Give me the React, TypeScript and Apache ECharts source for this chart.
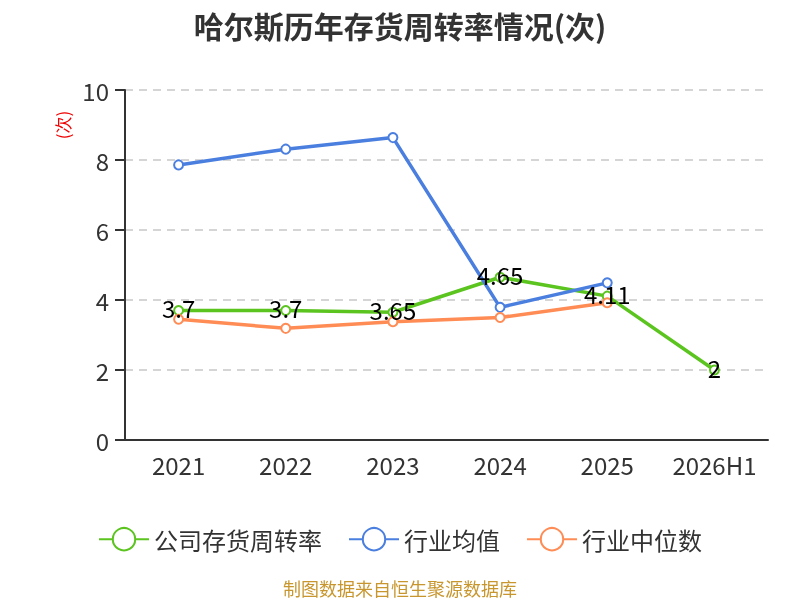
import React, { useEffect, useRef } from "react";
import * as echarts from "echarts";

const categories = ["2021", "2022", "2023", "2024", "2025", "2026H1"];
const companyValues = [3.7, 3.7, 3.65, 4.65, 4.11, 2];
const industryAvg = [7.86, 8.31, 8.64, 3.79, 4.49, null];
const industryMedian = [3.45, 3.19, 3.38, 3.5, 3.92, null];
const seriesNames = ["公司存货周转率", "行业均值", "行业中位数"];
const colors = ["#5bc41f", "#4a7fe0", "#ff8c55"];

const FONT = "'Noto Sans CJK SC', 'Noto Sans', sans-serif";

export default function App() {
  const ref = useRef<HTMLDivElement>(null);
  useEffect(() => {
    if (!ref.current) return;
    const chart = echarts.init(ref.current, undefined, { renderer: "svg" });
    const mk = (name: string, data: any[], color: string, withLabel: boolean) => ({
      name,
      type: "line",
      data,
      symbol: "emptyCircle",
      symbolSize: 9,
      lineStyle: { width: 3.5, color },
      itemStyle: { color, borderWidth: 2 },
      label: withLabel
        ? {
            show: true,
            position: "inside",
            offset: [0, -3],
            color: "#000",
            fontSize: 24,
            fontFamily: FONT,
          }
        : { show: false },
    });
    chart.setOption({
      animation: false,
      textStyle: { fontFamily: FONT },
      title: {
        text: "哈尔斯历年存货周转率情况(次)",
        left: "center",
        top: 5,
        textStyle: { fontSize: 30, fontWeight: "bold", color: "#333", fontFamily: FONT },
      },
      graphic: [
        {
          type: "text",
          x: 62,
          y: 125,
          rotation: Math.PI / 2,
          style: {
            text: "(次)",
            fill: "#e00",
            fontSize: 17,
            fontFamily: FONT,
            align: "center",
            verticalAlign: "middle",
          },
        },
        {
          type: "text",
          left: "center",
          top: 579,
          style: {
            text: "制图数据来自恒生聚源数据库",
            fill: "#c8962e",
            fontSize: 18,
            fontFamily: FONT,
          },
        },
      ],
      legend: {
        top: 522,
        left: "center",
        itemWidth: 50,
        itemHeight: 28,
        itemGap: 26,
        textStyle: { fontSize: 24, color: "#333", fontFamily: FONT },
        data: seriesNames,
      },
      grid: { left: 125, right: 32, top: 90, bottom: 160 },
      xAxis: {
        type: "category",
        data: categories,
        boundaryGap: true,
        axisLine: { lineStyle: { color: "#333", width: 2 } },
        axisTick: { length: 9, interval: 0, lineStyle: { color: "#333", width: 2 } },
        axisLabel: { fontSize: 24, color: "#333", margin: 12, interval: 0, fontFamily: FONT },
      },
      yAxis: {
        type: "value",
        min: 0,
        max: 10,
        interval: 2,
        axisLine: { show: true, lineStyle: { color: "#333", width: 2 } },
        axisTick: { show: true, length: 10, lineStyle: { color: "#333", width: 2 } },
        axisLabel: { fontSize: 24, color: "#333", margin: 16, fontFamily: FONT },
        splitLine: { lineStyle: { color: "#c8c8c8", type: [8, 6], width: 1.5 } },
      },
      series: [
        mk(seriesNames[0], companyValues, colors[0], true),
        mk(seriesNames[1], industryAvg, colors[1], false),
        mk(seriesNames[2], industryMedian, colors[2], false),
      ],
    });
    return () => chart.dispose();
  }, []);
  return (
    <div
      ref={ref}
      style={{ position: "fixed", left: 0, top: 0, width: 800, height: 600 }}
    />
  );
}
